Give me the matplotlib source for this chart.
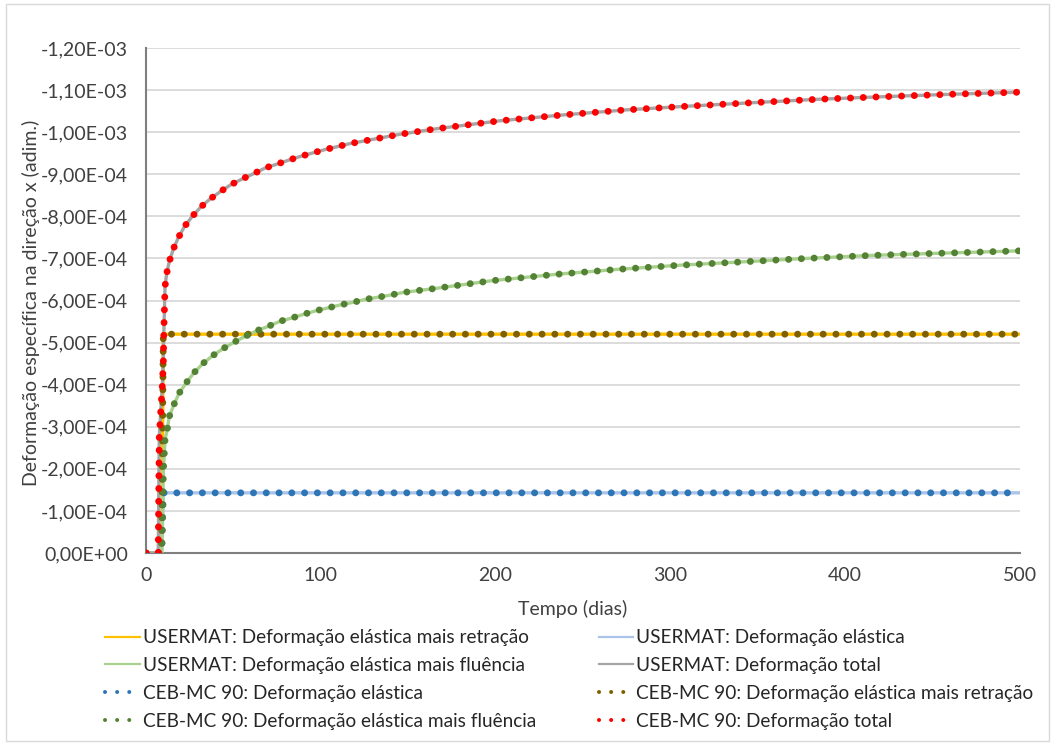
import numpy as np
import matplotlib
matplotlib.use("Agg")
import matplotlib.pyplot as plt
from matplotlib.ticker import MultipleLocator, FuncFormatter
from matplotlib.lines import Line2D
from matplotlib.patches import Rectangle

plt.rcParams['font.family'] = ['Lato', 'DejaVu Sans']

# deformations, in units of 1E-04 (shown negative)
t_elast = [0, 9.0, 9.9, 500]
v_elast = [0, 0, 1.43, 1.43]

t_retr = [0, 9.0, 9.9, 500]
v_retr = [0, 0, 5.20, 5.20]

t_flu = [0, 8.8, 9.5, 10, 10.9, 12.2, 13.3, 16, 19, 23.3, 27.6,
         32.8, 38.2, 44.2, 50.5, 56.8, 63.3, 70.2, 77, 83.9, 90.8,
         97.6, 104.7, 111.7, 118.8, 125.9, 133, 140, 147, 154.5, 162.5,
         197.8, 234, 270, 306, 342, 378, 414, 436, 500]
v_flu = [0, 0, 1.0, 2.0, 2.70, 2.94, 3.24, 3.53, 3.80, 4.06, 4.29,
         4.51, 4.69, 4.86, 5.01, 5.15, 5.28, 5.39, 5.51, 5.59, 5.68,
         5.76, 5.83, 5.90, 5.96, 6.03, 6.08, 6.13, 6.19, 6.23, 6.27,
         6.47, 6.62, 6.74, 6.84, 6.92, 7.00, 7.07, 7.10, 7.18]

t_total = [0, 7, 7.6, 8.4, 9.3, 9.9, 10.3, 10.9, 11.8, 13.3,
           15.6, 18.5, 21.9, 26.1, 31.3, 36.6, 42.3, 48.5, 55.1, 61.4,
           68.3, 74.9, 82, 88.8, 95.7, 102.8, 116.9, 131.2, 145.3, 166,
           202.5, 238.7, 275, 311, 347, 383.7, 420, 460, 500]
v_total = [0, 0, 2.76, 3.33, 3.94, 4.51, 5.4, 6.33, 6.63, 6.92,
           7.22, 7.49, 7.75, 7.98, 8.22, 8.41, 8.58, 8.75, 8.89, 9.01,
           9.15, 9.24, 9.34, 9.43, 9.51, 9.59, 9.73, 9.84, 9.95, 10.08,
           10.27, 10.41, 10.53, 10.62, 10.70, 10.78, 10.84, 10.90, 10.95]

labels = ["USERMAT: Deformação elástica mais retração",
          "USERMAT: Deformação elástica",
          "USERMAT: Deformação elástica mais fluência",
          "USERMAT: Deformação total",
          "CEB-MC 90: Deformação elástica",
          "CEB-MC 90: Deformação elástica mais retração",
          "CEB-MC 90: Deformação elástica mais fluência",
          "CEB-MC 90: Deformação total"]

FS = 14
TXT = '#404040'


def eps(v):
    return -np.array(v) * 1e-4


fig = plt.figure(figsize=(10.54, 7.44), dpi=100)
ax = fig.add_axes([0.1385, 0.2567, 0.8292, 0.6788])

fig.patches.append(Rectangle((0.006, 0.004), 0.989, 0.991, transform=fig.transFigure,
                             fill=False, edgecolor='#D9D9D9', lw=1))

# USERMAT: solid lines
solid = [(t_retr, v_retr, '#FFC000'),
         (t_elast, v_elast, '#A9C4E8'),
         (t_flu, v_flu, '#A9D18E'),
         (t_total, v_total, '#A5A5A5')]
for t, v, c in solid:
    ax.plot(t, eps(v), '-', color=c, lw=2.4, zorder=3)

# CEB-MC 90: round dots
dotted = [(t_elast, v_elast, '#2E75B6'),
          (t_retr, v_retr, '#7F6000'),
          (t_flu, v_flu, '#548235'),
          (t_total, v_total, '#FF0000')]
for t, v, c in dotted:
    ax.plot(t, eps(v), color=c, lw=5.0, dashes=(0.01, 1.83),
            dash_capstyle='round', zorder=4)

ax.set_xlim(0, 500)
ax.set_ylim(0, -1.2e-3)
ax.xaxis.set_major_locator(MultipleLocator(100))
ax.yaxis.set_major_locator(MultipleLocator(1e-4))
ax.yaxis.set_major_formatter(FuncFormatter(lambda v, p: f"{v:.2E}".replace('.', ',')))

ax.grid(axis='y', color='#D9D9D9', lw=1.3)
ax.set_axisbelow(True)
for s in ['top', 'right']:
    ax.spines[s].set_visible(False)
for s in ['left', 'bottom']:
    ax.spines[s].set_color('#7F7F7F')
    ax.spines[s].set_linewidth(1.5)
    ax.spines[s].set_zorder(2)
ax.tick_params(length=0, labelsize=FS, colors=TXT)
ax.tick_params(axis='y', pad=13)
ax.tick_params(axis='x', pad=10)

ax.set_xlabel("Tempo (dias)", fontsize=FS, color=TXT)
ax.xaxis.set_label_coords(0.4886, -0.093)
ax.set_ylabel("Deformação específica na direção x (adim.)", fontsize=FS, color=TXT)
ax.yaxis.set_label_coords(-0.121, 0.495)

# legend (column-major order for ncol=2)
def h_solid(c):
    return Line2D([], [], color=c, lw=1.6)


def h_dot(c):
    return Line2D([], [], color=c, lw=2.9, dashes=(0.01, 3.0), dash_capstyle='round')


handles = [h_solid('#FFC000'), h_solid('#A9D18E'), h_dot('#2E75B6'), h_dot('#548235'),
           h_solid('#A9C4E8'), h_solid('#A5A5A5'), h_dot('#7F6000'), h_dot('#FF0000')]
leg_labels = [labels[0], labels[2], labels[4], labels[6],
              labels[1], labels[3], labels[5], labels[7]]
leg = fig.legend(handles, leg_labels, ncol=2, loc='upper center',
                 bbox_to_anchor=(0.54, 0.167), frameon=False, fontsize=13.7,
                 handlelength=1.8, handletextpad=0.15, columnspacing=3.3,
                 labelspacing=0.57, borderpad=0)
for txt in leg.get_texts():
    txt.set_color('#262626')

fig.savefig("out.png", dpi=100)
